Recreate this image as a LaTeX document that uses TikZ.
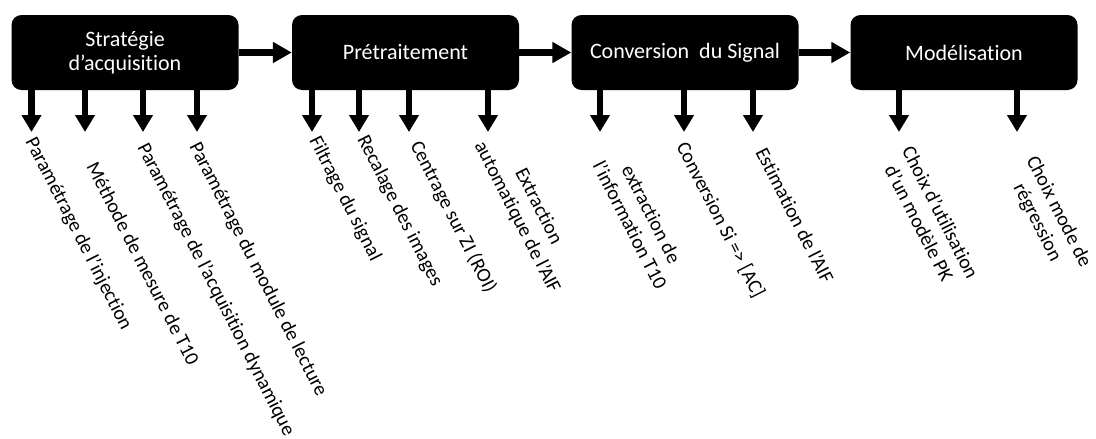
\documentclass[tikz,border=0pt]{standalone}
\usepackage{fontspec}
\setmainfont{Carlito}[Ligatures=NoCommon]
\usetikzlibrary{arrows.meta}
\begin{document}
\begin{tikzpicture}[x=1pt,y=-1pt,
  stage/.style={fill=black, rounded corners=10pt, minimum width=227pt, minimum height=75pt,
    text=white, font=\fontsize{22}{24}\selectfont, align=center, inner sep=0pt},
  flow/.style={line width=7pt, -{Triangle[width=20pt,length=19pt]}},
  sub/.style={line width=6.5pt, -{Triangle[width=19pt,length=17pt]}},
  lbl/.style={rotate=-63, font=\fontsize{20}{24}\selectfont, inner sep=0pt, align=center},
  one/.style={lbl, anchor=base west},
  two/.style={lbl, anchor=west}]
\useasboundingbox (0,0) rectangle (1096,439);

% stages
\node[stage] (b1) at (125,52.5) {Stratégie\\d’acquisition};
\node[stage] (b2) at (405.5,52.5) {Prétraitement};
\node[stage] (b3) at (685,52.5) {Conversion\ \ du Signal};
\node[stage] (b4) at (964,52.5) {Modélisation};

\draw[flow] (b1) -- (b2);
\draw[flow] (b2) -- (b3);
\draw[flow] (b3) -- (b4);

% tips
\coordinate (t1) at (31.5,132);
\coordinate (t2) at (85,132);
\coordinate (t3) at (143,132);
\coordinate (t4) at (197,132);
\coordinate (t5) at (312,132);
\coordinate (t6) at (359,132);
\coordinate (t7) at (409,132);
\coordinate (t8) at (488,132);
\coordinate (t9) at (600,132);
\coordinate (t10) at (684,132);
\coordinate (t11) at (753,132);
\coordinate (t12) at (899,132);
\coordinate (t13) at (1017,132);

\foreach \t in {t1,t2,t3,t4}{\draw[sub] (b1.south -| \t) -- (\t);}
\foreach \t in {t5,t6,t7,t8}{\draw[sub] (b2.south -| \t) -- (\t);}
\foreach \t in {t9,t10,t11}{\draw[sub] (b3.south -| \t) -- (\t);}
\foreach \t in {t12,t13}{\draw[sub] (b4.south -| \t) -- (\t);}

% labels
\node[one] (l1) at (25,141) {Paramétrage de l’injection};
\node[one] (l2) at (86,166) {Méthode de mesure de T10};
\node[one] (l3) at (137,147) {Paramétrage de l’acquisition dynamique};
\node[one] (l4) at (189,146) {Paramétrage du module de lecture};
\node[one] (l5) at (309,140) {Filtrage du signal};
\node[one] (l6) at (357,139) {Recalage des images};
\node[one] (l7) at (410,145) {Centrage sur ZI (ROI)};
\node[two] (l8) at (489.6,137.3) {Extraction\\automatique de l’AIF};
\node[two] (l9) at (609,157) {extraction de\\l’information T10};
\node[one] (l10) at (676,146) {Conversion Si => [AC]};
\node[one] (l11) at (755,152) {Estimation de l’AIF};
\node[two] (l12) at (897,153) {Choix d’utilisation\\d’un modèle PK};
\node[two] (l13) at (1020,163) {Choix mode de\\régression};
\end{tikzpicture}
\end{document}
